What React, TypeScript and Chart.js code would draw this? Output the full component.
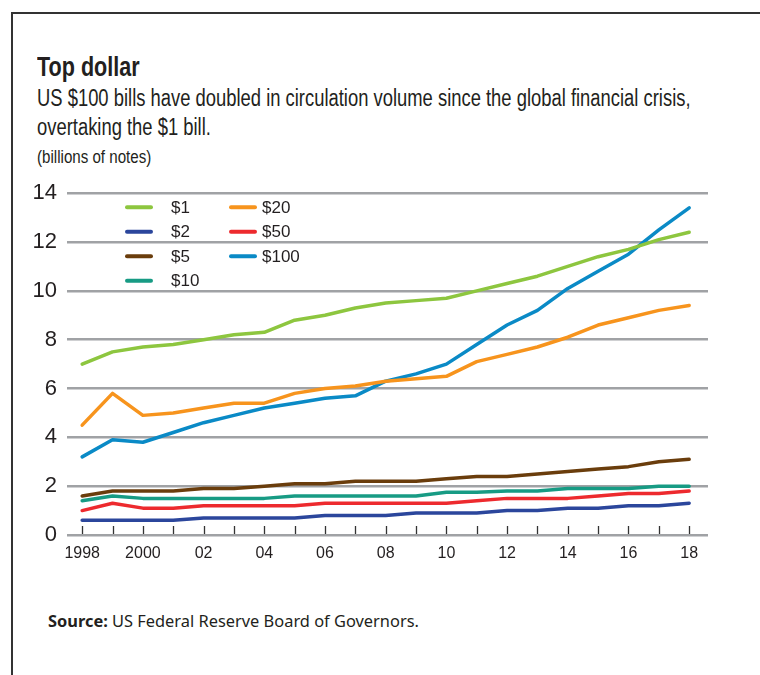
import React, { useEffect, useRef } from "react";
import { Chart, registerables } from "chart.js";

Chart.register(...registerables);

const years = [1998, 1999, 2000, 2001, 2002, 2003, 2004, 2005, 2006, 2007, 2008, 2009, 2010, 2011, 2012, 2013, 2014, 2015, 2016, 2017, 2018];
const xTickYears = [1998, 2000, 2002, 2004, 2006, 2008, 2010, 2012, 2014, 2016, 2018];
const xTickLabels = ["1998", "2000", "02", "04", "06", "08", "10", "12", "14", "16", "18"];
const yTicks = [0, 2, 4, 6, 8, 10, 12, 14];

const seriesNames = ["$1", "$2", "$5", "$10", "$20", "$50", "$100"];
const seriesColors = ["#8dc63f", "#2b469c", "#6a3d0c", "#179b84", "#f7941d", "#ed2a2e", "#0a8ac6"];

const bill1 = [7.0, 7.5, 7.7, 7.8, 8.0, 8.2, 8.3, 8.8, 9.0, 9.3, 9.5, 9.6, 9.7, 10.0, 10.3, 10.6, 11.0, 11.4, 11.7, 12.1, 12.4];
const bill2 = [0.6, 0.6, 0.6, 0.6, 0.7, 0.7, 0.7, 0.7, 0.8, 0.8, 0.8, 0.9, 0.9, 0.9, 1.0, 1.0, 1.1, 1.1, 1.2, 1.2, 1.3];
const bill5 = [1.6, 1.8, 1.8, 1.8, 1.9, 1.9, 2.0, 2.1, 2.1, 2.2, 2.2, 2.2, 2.3, 2.4, 2.4, 2.5, 2.6, 2.7, 2.8, 3.0, 3.1];
const bill10 = [1.4, 1.6, 1.5, 1.5, 1.5, 1.5, 1.5, 1.6, 1.6, 1.6, 1.6, 1.6, 1.75, 1.75, 1.8, 1.8, 1.9, 1.9, 1.9, 2.0, 2.0];
const bill20 = [4.5, 5.8, 4.9, 5.0, 5.2, 5.4, 5.4, 5.8, 6.0, 6.1, 6.3, 6.4, 6.5, 7.1, 7.4, 7.7, 8.1, 8.6, 8.9, 9.2, 9.4];
const bill50 = [1.0, 1.3, 1.1, 1.1, 1.2, 1.2, 1.2, 1.2, 1.3, 1.3, 1.3, 1.3, 1.3, 1.4, 1.5, 1.5, 1.5, 1.6, 1.7, 1.7, 1.8];
const bill100 = [3.2, 3.9, 3.8, 4.2, 4.6, 4.9, 5.2, 5.4, 5.6, 5.7, 6.3, 6.6, 7.0, 7.8, 8.6, 9.2, 10.1, 10.8, 11.5, 12.5, 13.4];

const seriesValues = [bill1, bill2, bill5, bill10, bill20, bill50, bill100];

const SANS = "'Liberation Sans', Arial, sans-serif";
const TEXT = "#231f20";

const tickMarksPlugin = {
  id: "tickMarks",
  beforeDatasetsDraw(chart: any) {
    const { ctx, chartArea, scales } = chart;
    ctx.save();
    ctx.strokeStyle = "#333333";
    ctx.lineWidth = 1.3;
    years.forEach((yr) => {
      const x = Math.round(scales.x.getPixelForValue(yr)) + 0.5;
      ctx.beginPath();
      ctx.moveTo(x, chartArea.bottom - 9);
      ctx.lineTo(x, chartArea.bottom - 1);
      ctx.stroke();
    });
    ctx.restore();
  },
};

// legend in two columns inside plot area (column-major as in original)
const legendCols = [[0, 1, 2, 3], [4, 5, 6]];
const legendPlugin = {
  id: "insideLegend",
  afterDatasetsDraw(chart: any) {
    const { ctx, chartArea } = chart;
    const colLine = [60, 164];
    const colText = [104, 195];
    ctx.save();
    ctx.font = `17px ${SANS}`;
    ctx.textBaseline = "middle";
    ctx.fillStyle = TEXT;
    legendCols.forEach((col, ci) => {
      col.forEach((di, ri) => {
        const ds = chart.data.datasets[di];
        const y = chartArea.top + 14 + ri * 24.5;
        const x0 = chartArea.left + colLine[ci];
        ctx.strokeStyle = ds.borderColor;
        ctx.lineWidth = 4;
        ctx.lineCap = "round";
        ctx.beginPath();
        ctx.moveTo(x0, y);
        ctx.lineTo(x0 + 24, y);
        ctx.stroke();
        ctx.fillText(ds.label, chartArea.left + colText[ci], y + 1);
      });
    });
    ctx.restore();
  },
};

function LineChart() {
  const ref = useRef<HTMLCanvasElement | null>(null);
  useEffect(() => {
    if (!ref.current) return;
    const chart = new Chart(ref.current, {
      type: "line",
      data: {
        datasets: seriesNames.map((name, i) => ({
          label: name,
          data: years.map((yr, j) => ({ x: yr, y: seriesValues[i][j] })),
          borderColor: seriesColors[i],
          backgroundColor: seriesColors[i],
          borderWidth: 3.5,
          pointRadius: 0,
          tension: 0,
          borderCapStyle: "round",
          borderJoinStyle: "round",
          fill: false,
        })),
      },
      options: {
        animation: false,
        responsive: true,
        maintainAspectRatio: false,
        layout: { padding: { top: 21, right: 52, left: 0, bottom: 0 } },
        plugins: {
          legend: { display: false },
          tooltip: { enabled: false },
          title: { display: false },
        },
        scales: {
          x: {
            type: "linear",
            min: 1997.5,
            max: 2018.62,
            grid: { display: false, drawTicks: false },
            border: { display: false },
            afterBuildTicks: (scale: any) => {
              scale.ticks = xTickYears.map((v) => ({ value: v }));
            },
            afterFit: (scale: any) => {
              scale.height = 45;
            },
            ticks: {
              padding: 9,
              color: TEXT,
              font: { family: SANS, size: 16 },
              maxRotation: 0,
              autoSkip: false,
              callback: (v: any) => {
                const idx = xTickYears.indexOf(Number(v));
                return idx >= 0 ? xTickLabels[idx] : "";
              },
            },
          },
          y: {
            min: 0,
            max: 14,
            afterBuildTicks: (scale: any) => {
              scale.ticks = yTicks.map((v) => ({ value: v }));
            },
            afterFit: (scale: any) => {
              scale.width = 67;
            },
            grid: { color: "#a0a2a5", lineWidth: 2.5, drawTicks: false },
            border: { display: false },
            ticks: {
              padding: 10,
              color: TEXT,
              font: { family: SANS, size: 22 },
            },
          },
        },
      },
      plugins: [tickMarksPlugin, legendPlugin],
    } as any);
    return () => chart.destroy();
  }, []);
  return <canvas ref={ref} />;
}

const condensed = (scale: number): React.CSSProperties => ({
  transform: `scaleX(${scale})`,
  transformOrigin: "left top",
  whiteSpace: "nowrap",
});

export default function App() {
  return (
    <div
      style={{
        position: "absolute",
        left: 0,
        top: 0,
        width: 760,
        height: 675,
        overflow: "hidden",
        background: "#ffffff",
        color: TEXT,
      }}
    >
      <div
        style={{
          position: "absolute",
          left: 11,
          top: 12,
          width: 800,
          height: 700,
          borderLeft: "2px solid #333",
          borderTop: "2px solid #333",
        }}
      />
      <div
        style={{
          position: "absolute",
          left: 37,
          top: 52,
          fontFamily: SANS,
          fontWeight: "bold",
          fontSize: 28,
          lineHeight: "30px",
          ...condensed(0.77),
        }}
      >
        Top dollar
      </div>
      <div
        style={{
          position: "absolute",
          left: 37,
          top: 84,
          fontFamily: SANS,
          fontSize: 23,
          lineHeight: "29px",
          ...condensed(0.8),
        }}
      >
        US $100 bills have doubled in circulation volume since the global financial crisis,
        <br />
        overtaking the $1 bill.
      </div>
      <div
        style={{
          position: "absolute",
          left: 37,
          top: 147,
          fontFamily: SANS,
          fontSize: 18,
          lineHeight: "20px",
          ...condensed(0.84),
        }}
      >
        (billions of notes)
      </div>
      <div style={{ position: "absolute", left: 0, top: 170, width: 760, height: 410 }}>
        <LineChart />
      </div>
      <div
        style={{
          position: "absolute",
          left: 48,
          top: 611,
          fontFamily: "'Noto Sans', 'Open Sans', sans-serif",
          fontSize: 16.4,
          lineHeight: "20px",
          whiteSpace: "nowrap",
        }}
      >
        <b>Source:</b> US Federal Reserve Board of Governors.
      </div>
    </div>
  );
}
